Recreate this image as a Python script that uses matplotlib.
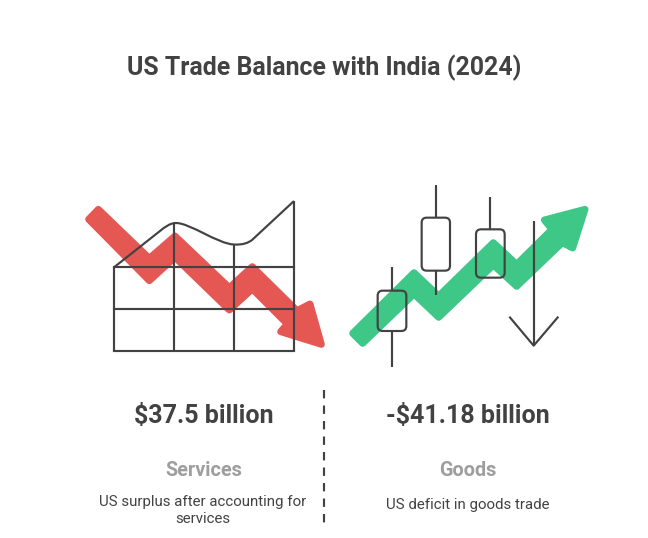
import matplotlib
matplotlib.use("Agg")
import matplotlib.pyplot as plt
from matplotlib.patches import Polygon, FancyBboxPatch
from matplotlib.path import Path
from matplotlib.patches import PathPatch

TITLE = "US Trade Balance with India (2024)"
categories = ["Services", "Goods"]
amounts = ["$37.5 billion", "-$41.18 billion"]
notes = ["US surplus after accounting for\nservices", "US deficit in goods trade"]

INK = "#424242"
GREY = "#9E9E9E"
RED = "#E55753"
GREEN = "#3EC786"

W, H = 648, 538
fig = plt.figure(figsize=(W / 100, H / 100), dpi=100)
ax = fig.add_axes([0, 0, 1, 1])
ax.set_xlim(0, W)
ax.set_ylim(H, 0)
ax.axis("off")
plt.rcParams["font.family"] = ["Roboto", "DejaVu Sans"]


def z1(pts):
    return [(70 + x / 3, 180 + y / 3) for x, y in pts]


def z2(pts):
    return [(340 + x / 3, 180 + y / 3) for x, y in pts]


def ribbon(pts, color):
    ax.add_patch(Polygon(pts, closed=True, facecolor=color, edgecolor=color,
                         linewidth=5.0, joinstyle="round", zorder=1))


ribbon(z1([(56, 118), (85, 88), (238, 235), (315, 168), (478, 323), (547, 260),
           (681, 392), (720, 372), (754, 493), (632, 455), (652, 432),
           (547, 327), (478, 390), (315, 232), (238, 302)]), RED)
ribbon(z2([(38, 460), (68, 490), (222, 342), (296, 412), (460, 255), (530, 319),
           (667, 188), (698, 204), (735, 88), (613, 120), (636, 148),
           (530, 253), (460, 188), (296, 348), (222, 278)]), GREEN)


def line(xs, ys, ls="-", lw=1.55, cap="butt"):
    ax.plot(xs, ys, color=INK, lw=lw, ls=ls, solid_capstyle=cap,
            solid_joinstyle="round", zorder=3)


# table icon
for y in (267.3, 309.3, 351.3):
    line([114, 294], [y, y], cap="projecting")
line([114, 114], [267.3, 351.3])
line([174, 174], [223, 351.3])
line([234, 234], [244.5, 351.3])
line([294, 294], [201, 351.3])
curve = Path([(114, 267.3), (160, 231),
              (165, 227), (170, 223), (176, 223),
              (190, 223), (218, 244), (234, 244.5),
              (243, 245), (248, 243), (252, 240),
              (294, 201)],
             [Path.MOVETO, Path.LINETO,
              Path.CURVE4, Path.CURVE4, Path.CURVE4,
              Path.CURVE4, Path.CURVE4, Path.CURVE4,
              Path.CURVE4, Path.CURVE4, Path.CURVE4,
              Path.LINETO])
ax.add_patch(PathPatch(curve, fill=False, edgecolor=INK, lw=1.55, zorder=3))

# candlesticks
for x, top, y0, y1, bottom, x0, x1 in [
    (156, 260, 332, 453, 560, 113, 199),
    (288, 15, 113, 272, 345, 245, 330),
    (450, 50, 148, 293, None, 408, 494),
]:
    (cx, t), (bx0, by0), (bx1, by1) = z2([(x, top), (x0, y0), (x1, y1)])
    line([cx, cx], [t, by0])
    if bottom is not None:
        line([cx, cx], [by1, 180 + bottom / 3])
    ax.add_patch(FancyBboxPatch((bx0 + 5, by0 + 5), bx1 - bx0 - 10, by1 - by0 - 10,
                                boxstyle="round,pad=5,rounding_size=5", fill=False,
                                edgecolor=INK, lw=1.55, zorder=3))

# down arrow
ax_pts = z2([(581, 122), (581, 497), (508, 410), (655, 410)])
line([ax_pts[0][0], ax_pts[1][0]], [ax_pts[0][1], ax_pts[1][1]])
line([ax_pts[2][0], ax_pts[1][0], ax_pts[3][0]], [ax_pts[2][1], ax_pts[1][1], ax_pts[3][1]])

# divider
ax.plot([324, 324], [390, 528.5], color=INK, lw=1.55, ls=(0, (3.9, 3.3)), zorder=3)

# text
ax.text(324.5, 67.5, TITLE, ha="center", va="center", fontsize=17.95, fontweight="bold", color=INK)
for cx, amount, cat, note, ny, dx in zip((204, 468), amounts, categories, notes, (510.5, 505.5), (-1, 0)):
    ax.text(cx, 416, amount, ha="center", va="center", fontsize=18, fontweight="bold", color=INK)
    ax.text(cx, 470, cat, ha="center", va="center", fontsize=14.3, fontweight="bold", color=GREY)
    ax.text(cx + dx, ny, note, ha="center", va="center", fontsize=10.8,
            color=INK, linespacing=1.28)

fig.savefig("out.png", dpi=100)
